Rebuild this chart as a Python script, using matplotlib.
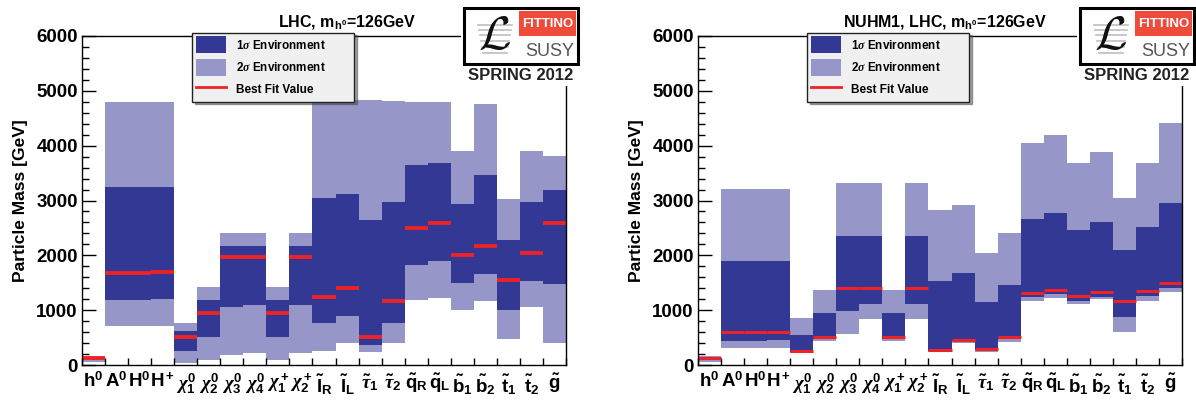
import matplotlib.pyplot as plt
from matplotlib.patches import Patch, Rectangle
from matplotlib.lines import Line2D

plt.rcParams['font.family'] = ['Liberation Sans', 'DejaVu Sans']
plt.rcParams['font.weight'] = 'bold'
plt.rcParams['mathtext.fontset'] = 'custom'
plt.rcParams['mathtext.rm'] = 'Liberation Sans:bold'
plt.rcParams['mathtext.bf'] = 'Liberation Sans:bold'
plt.rcParams['mathtext.it'] = 'Liberation Serif:italic'

# Teilchen (x-Achse)
particles = [r'$\mathrm{h}^0$', r'$\mathrm{A}^0$', r'$\mathrm{H}^0$', r'$\mathrm{H}^+$',
             r'$\chi^0_1$', r'$\chi^0_2$', r'$\chi^0_3$', r'$\chi^0_4$',
             r'$\chi^+_1$', r'$\chi^+_2$',
             r'$\tilde{\mathrm{l}}_\mathrm{R}$', r'$\tilde{\mathrm{l}}_\mathrm{L}$',
             r'$\tilde{\tau}_1$', r'$\tilde{\tau}_2$',
             r'$\tilde{\mathrm{q}}_\mathrm{R}$', r'$\tilde{\mathrm{q}}_\mathrm{L}$',
             r'$\tilde{\mathrm{b}}_1$', r'$\tilde{\mathrm{b}}_2$',
             r'$\tilde{\mathrm{t}}_1$', r'$\tilde{\mathrm{t}}_2$', r'$\tilde{\mathrm{g}}$']

# LHC (links)
lhc_best = [126, 1680, 1675, 1695, 510, 955, 1965, 1965, 955, 1965, 1240, 1405, 505,
            1160, 2495, 2595, 2000, 2175, 1545, 2035, 2595]
lhc_1s_lo = [115, 1186, 1190, 1204, 255, 505, 1058, 1094, 505, 1094, 760, 894, 365,
             760, 1824, 1897, 1502, 1660, 1003, 1532, 1477]
lhc_1s_hi = [135, 3240, 3240, 3240, 620, 1186, 2170, 2170, 1186, 2170, 3050, 3120, 2645,
             2975, 3650, 3680, 2940, 3465, 2280, 2975, 3190]
lhc_2s_lo = [50, 717, 717, 717, 30, 91, 182, 225, 91, 225, 261, 407, 243,
             407, 1186, 1228, 1003, 1167, 468, 1064, 395]
lhc_2s_hi = [140, 4800, 4800, 4800, 772, 1430, 2400, 2400, 1430, 2400, 4830, 4830, 4830,
             4820, 4800, 4800, 3900, 4760, 3020, 3900, 3810]

# NUHM1, LHC (rechts)
nuhm_best = [120, 596, 596, 596, 261, 517, 1398, 1398, 517, 1398, 274, 456, 286,
             517, 1319, 1368, 1265, 1325, 1173, 1356, 1502]
nuhm_1s_lo = [95, 438, 438, 456, 243, 480, 991, 1113, 480, 1113, 261, 438, 274,
              474, 1246, 1295, 1173, 1246, 882, 1259, 1411]
nuhm_1s_hi = [135, 1897, 1897, 1897, 547, 955, 2353, 2353, 955, 2353, 1532, 1684, 1155,
              1459, 2663, 2779, 2462, 2608, 2098, 2511, 2961]
nuhm_2s_lo = [60, 316, 316, 316, 225, 438, 565, 839, 438, 839, 243, 407, 243,
              426, 1173, 1228, 1107, 1198, 608, 1173, 1338]
nuhm_2s_hi = [160, 3210, 3210, 3210, 851, 1368, 3320, 3320, 1368, 3320, 2827, 2918, 2037,
              2414, 4055, 4195, 3678, 3879, 3040, 3678, 4408]

dark = '#343895'
light = '#9696c9'
red = '#ec2227'

W, H = 1196, 400
fig = plt.figure(figsize=(W / 100, H / 100), dpi=100)


def px_axes(x0, y0, x1, y1):
    # Pixelbox (oben links) -> Figure-Achsen
    return fig.add_axes([x0 / W, 1 - y1 / H, (x1 - x0) / W, (y1 - y0) / H])


def panel(x0, best, lo1, hi1, lo2, hi2, title, tx, legx, lw):
    ax = px_axes(x0, 36, x0 + 484, 365)
    n = len(best)
    xs = list(range(n))
    ax.bar(xs, [h - l for h, l in zip(hi2, lo2)], bottom=lo2, width=1, align='edge',
           color=light, linewidth=0)
    ax.bar(xs, [h - l for h, l in zip(hi1, lo1)], bottom=lo1, width=1, align='edge',
           color=dark, linewidth=0)
    ax.hlines(best, xs, [x + 1 for x in xs], color=red, linewidth=lw)
    ax.set_xlim(0, n)
    ax.set_ylim(0, 6000)
    ax.set_xticks(range(n + 1))
    ax.set_xticklabels([])
    ax.set_xticks([x + 0.5 for x in xs], minor=True)
    ax.set_xticklabels(particles, minor=True, fontsize=13.5)
    ax.tick_params(axis='x', which='major', direction='in', length=5, width=1)
    ax.tick_params(axis='x', which='minor', length=0, pad=5)
    ax.set_yticks(range(0, 6001, 1000))
    ax.set_yticks(range(0, 6001, 200), minor=True)
    ax.tick_params(axis='y', which='major', direction='in', length=10, width=1,
                   labelsize=13.5, pad=3)
    ax.tick_params(axis='y', which='minor', direction='in', length=5, width=1)
    for s in ax.spines.values():
        s.set_linewidth(1)
    ax.set_ylabel('Particle Mass [GeV]', fontsize=12.5, fontweight='bold', labelpad=6)

    handles = [Patch(facecolor=dark, edgecolor='none'),
               Patch(facecolor=light, edgecolor='none'),
               Line2D([], [], color=red, linewidth=2)]
    leg = ax.legend(handles, [r'1$\sigma$ Environment', r'2$\sigma$ Environment',
                              'Best Fit Value'],
                    loc='upper left', bbox_to_anchor=((legx - x0) / 484, 1.0,
                                                      162 / 484, 0.01),
                    mode='expand',
                    prop={'size': 8.5, 'weight': 'bold'}, fancybox=False, shadow=True,
                    framealpha=1, facecolor='#f0f0f0', edgecolor='#222222',
                    handlelength=2.6, handleheight=1.85, labelspacing=0.45,
                    borderpad=0.3, handletextpad=0.8, borderaxespad=0)
    leg.get_frame().set_linewidth(1)
    fig.text(tx / W, 1 - 22 / H, title, ha='center', va='center', fontsize=11.5,
             fontweight='bold')
    return ax


def logo(x0):
    lg = px_axes(x0 - 3, 1, x0 + 117, 86)
    lg.set_xlim(-3, 117)
    lg.set_ylim(85, 0)
    lg.set_xticks([])
    lg.set_yticks([])
    for s in lg.spines.values():
        s.set_visible(False)
    lg.add_patch(Rectangle((0, 7), 114, 56, facecolor='white', edgecolor='black',
                           linewidth=2.2))
    lg.add_patch(Rectangle((55, 10), 57, 25, facecolor='#ee4b3a', edgecolor='none'))
    lg.text(83.5, 23, 'FITTINO', color='white', fontsize=9.5, fontweight='bold',
            ha='center', va='center')
    for i, yy in enumerate([24, 29, 34, 40, 46, 52]):
        lg.plot([14 + i, 48 - i], [yy, yy], color='#c4c4c4', linewidth=1.3)
    lg.text(30, 36, r'$\mathcal{L}$', fontsize=34, math_fontfamily='cm',
            ha='center', va='center', color='#111111')
    lg.text(86, 51, 'SUSY', fontsize=13, ha='center', va='center', color='#555555',
            fontweight='normal')
    lg.text(57, 75, 'SPRING 2012', fontsize=12, ha='center', va='center',
            fontweight='bold', color='#222222')


panel(82, lhc_best, lhc_1s_lo, lhc_1s_hi, lhc_2s_lo, lhc_2s_hi,
      r'LHC, m$_{\mathrm{h}^{0}}$=126GeV', 347, 192, 2.8)
panel(698, nuhm_best, nuhm_1s_lo, nuhm_1s_hi, nuhm_2s_lo, nuhm_2s_hi,
      r'NUHM1, LHC, m$_{\mathrm{h}^{0}}$=126GeV', 945, 807, 2.2)
logo(464)
logo(1080)

plt.savefig('out.png', dpi=100)
